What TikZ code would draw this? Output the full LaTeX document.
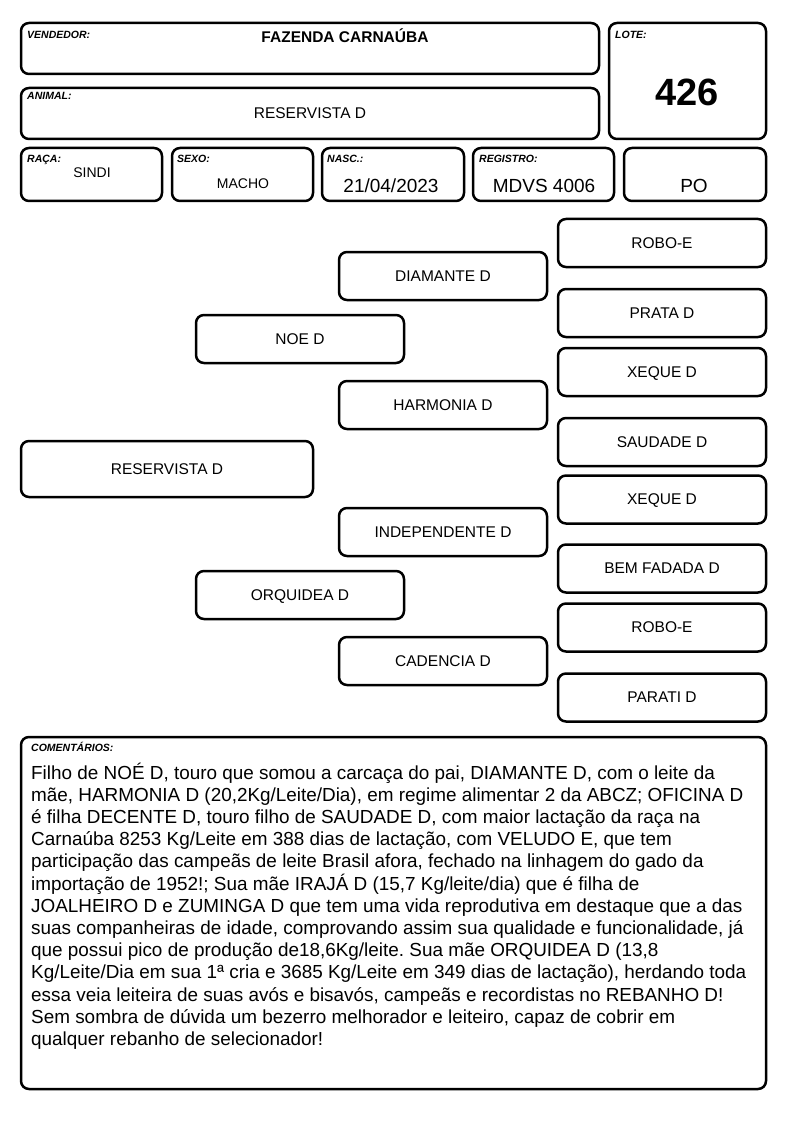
\documentclass[tikz,border=0pt]{standalone}
\usepackage{fontspec}
\setmainfont{Liberation Sans}
\frenchspacing
\begin{document}
\begin{tikzpicture}[x=1pt,y=-1pt,
  box/.style={draw, line width=2.5pt, rounded corners=8pt, inner sep=0pt},
  lbl/.style={font=\fontsize{10.5}{12}\selectfont\bfseries\itshape, anchor=base west, inner sep=0pt},
  val/.style={anchor=base, inner sep=0pt},
  ped/.style={box, minimum width=208pt, minimum height=48pt, text depth=0pt, font=\fontsize{15.5}{18}\selectfont},
]
\useasboundingbox (0,0) rectangle (794,1123);
% header boxes
\node[box, minimum width=578pt, minimum height=51pt] (vend) at (310,48.5) {};
\node[box, minimum width=578pt, minimum height=51pt] (anim) at (310,113.5) {};
\node[box, minimum width=157pt, minimum height=116pt] (lote) at (687.5,81) {};
\node[box, minimum width=141pt, minimum height=53pt] (raca) at (91.5,174.5) {};
\node[box, minimum width=141pt, minimum height=53pt] (sexo) at (242.5,174.5) {};
\node[box, minimum width=142pt, minimum height=53pt] (nasc) at (393,174.5) {};
\node[box, minimum width=141pt, minimum height=53pt] (regi) at (543.5,174.5) {};
\node[box, minimum width=142pt, minimum height=53pt] (po) at (695,174.5) {};
% labels
\node[lbl] (lvend) at (27,39) {VENDEDOR:};
\node[lbl] (lanim) at (27,100) {ANIMAL:};
\node[lbl] (llote) at (615,39) {LOTE:};
\node[lbl] (lraca) at (27,163) {RAÇA:};
\node[lbl] (lsexo) at (177,163) {SEXO:};
\node[lbl] (lnasc) at (327,163) {NASC.:};
\node[lbl] (lregi) at (479,163) {REGISTRO:};
% values
\node[val, font=\fontsize{15.5}{18}\selectfont\bfseries] (tvend) at (345,43) {FAZENDA CARNAÚBA};
\node[val, font=\fontsize{15.5}{18}\selectfont] (tanim) at (310,119) {RESERVISTA D};
\node[val, font=\fontsize{38}{44}\selectfont\bfseries] (tlote) at (687,106) {426};
\node[val, font=\fontsize{14}{17}\selectfont] (traca) at (92,178) {SINDI};
\node[val, font=\fontsize{14}{17}\selectfont] (tsexo) at (243,189) {MACHO};
\node[val, font=\fontsize{19}{22}\selectfont] (tnasc) at (391,193) {21/04/2023};
\node[val, font=\fontsize{19}{22}\selectfont] (tregi) at (544,193) {MDVS 4006};
\node[val, font=\fontsize{19}{22}\selectfont] (tpo) at (694,193) {PO};
% pedigree
\node[box, minimum width=292pt, minimum height=56pt, text depth=0pt, font=\fontsize{15.5}{18}\selectfont] (res) at (167,469) {RESERVISTA D};
\node[ped] (noe) at (300,339) {NOE D};
\node[ped] (orq) at (300,595) {ORQUIDEA D};
\node[ped] (dia) at (443,276) {DIAMANTE D};
\node[ped] (har) at (443,405) {HARMONIA D};
\node[ped] (ind) at (443,532) {INDEPENDENTE D};
\node[ped] (cad) at (443,661) {CADENCIA D};
\node[ped] (rob1) at (662,243) {ROBO-E};
\node[ped] (pra) at (662,313) {PRATA D};
\node[ped] (xeq1) at (662,372) {XEQUE D};
\node[ped] (sau) at (662,442) {SAUDADE D};
\node[ped] (xeq2) at (662,499.5) {XEQUE D};
\node[ped] (bem) at (662,568.5) {BEM FADADA D};
\node[ped] (rob2) at (662,627.5) {ROBO-E};
\node[ped] (par) at (662,697.5) {PARATI D};
% comments
\node[box, minimum width=745pt, minimum height=352pt] (com) at (393.5,913) {};
\node[lbl] (lcom) at (31,751) {COMENTÁRIOS:};
\node[anchor=base west, inner sep=0pt] (tcom) at (31,779) {\parbox[t]{760pt}{\fontsize{18.9}{22.2}\selectfont
Filho de NOÉ D, touro que somou a carcaça do pai, DIAMANTE D, com o leite da\\
mãe, HARMONIA D (20,2Kg/Leite/Dia), em regime alimentar 2 da ABCZ; OFICINA D\\
é filha DECENTE D, touro filho de SAUDADE D, com maior lactação da raça na\\
Carnaúba 8253 Kg/Leite em 388 dias de lactação, com VELUDO E, que tem\\
participação das campeãs de leite Brasil afora, fechado na linhagem do gado da\\
importação de 1952!; Sua mãe IRAJÁ D (15,7 Kg/leite/dia) que é filha de\\
JOALHEIRO D e ZUMINGA D que tem uma vida reprodutiva em destaque que a das\\
suas companheiras de idade, comprovando assim sua qualidade e funcionalidade, já\\
que possui pico de produção de18,6Kg/leite. Sua mãe ORQUIDEA D (13,8\\
Kg/Leite/Dia em sua 1ª cria e 3685 Kg/Leite em 349 dias de lactação), herdando toda\\
essa veia leiteira de suas avós e bisavós, campeãs e recordistas no REBANHO D!\\
Sem sombra de dúvida um bezerro melhorador e leiteiro, capaz de cobrir em\\
qualquer rebanho de selecionador!}};
\end{tikzpicture}
\end{document}
